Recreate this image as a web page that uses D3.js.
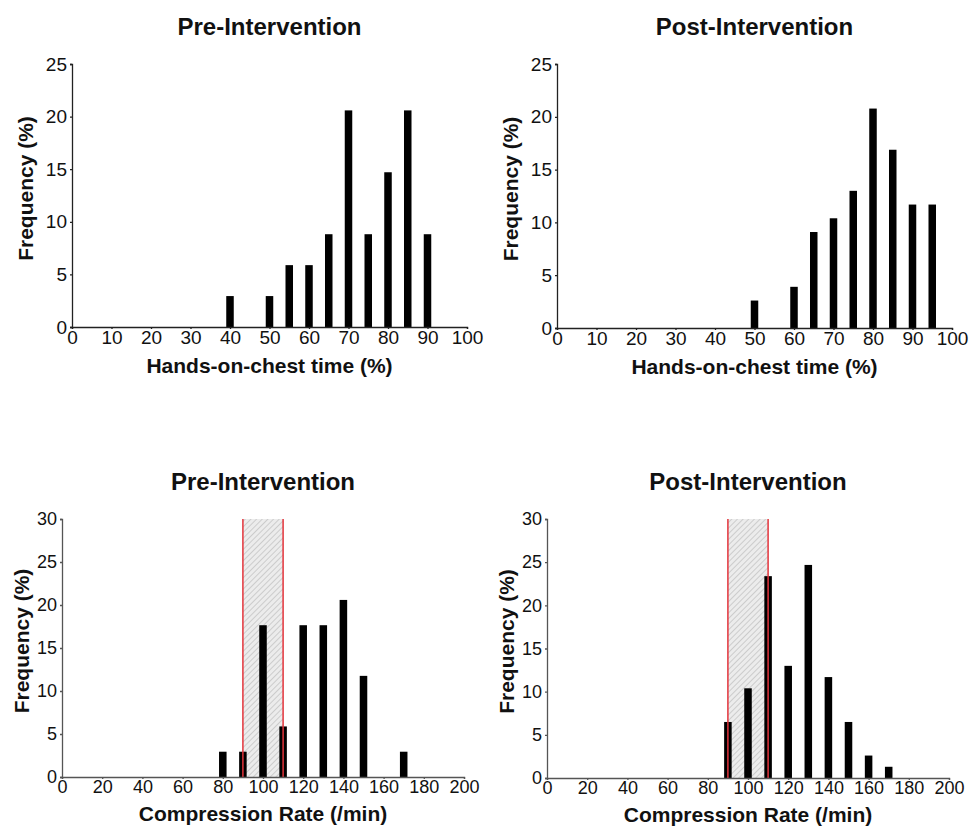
<!DOCTYPE html>
<html>
<head>
<meta charset="utf-8">
<script src="https://cdn.jsdelivr.net/npm/d3@7"></script>
<style>
  body { margin: 0; background: #fff; }
  svg { display: block; font-family: "Liberation Sans", Arial, sans-serif; }
  .axis text { fill: #111; }
  .chart-title { font-weight: bold; font-size: 24px; fill: #111; }
  .axis-title { font-weight: bold; font-size: 21px; fill: #111; }
</style>
</head>
<body>
<svg id="chart"></svg>
<script>
// Bin centres and frequencies (%)
const preHandsBins = [40, 50, 55, 60, 65, 70, 75, 80, 85, 90];
const preHandsFreq = [2.94, 2.94, 5.88, 5.88, 8.82, 20.59, 8.82, 14.71, 20.59, 8.82];

const postHandsBins = [50, 60, 65, 70, 75, 80, 85, 90, 95];
const postHandsFreq = [2.60, 3.90, 9.09, 10.39, 12.99, 20.78, 16.88, 11.69, 11.69];

const preRateBins = [80, 90, 100, 110, 120, 130, 140, 150, 170];
const preRateFreq = [2.94, 2.94, 17.65, 5.88, 17.65, 17.65, 20.59, 11.76, 2.94];

const postRateBins = [90, 100, 110, 120, 130, 140, 150, 160, 170];
const postRateFreq = [6.49, 10.39, 23.38, 12.99, 24.68, 11.69, 6.49, 2.60, 1.30];

// Tick labels
const handsTicksX = [0, 10, 20, 30, 40, 50, 60, 70, 80, 90, 100];
const handsTicksY = [0, 5, 10, 15, 20, 25];
const rateTicksX = [0, 20, 40, 60, 80, 100, 120, 140, 160, 180, 200];
const rateTicksY = [0, 5, 10, 15, 20, 25, 30];

// Recommended compression rate band
const targetRate = [90, 110];

const svg = d3.select('#chart')
    .attr('width', 971)
    .attr('height', 827);

// hatch pattern for the target band
const defs = svg.append('defs');
const pat = defs.append('pattern')
    .attr('id', 'hatch')
    .attr('patternUnits', 'userSpaceOnUse')
    .attr('width', 4)
    .attr('height', 4)
    .attr('patternTransform', 'rotate(45)');
pat.append('rect').attr('width', 4).attr('height', 4).attr('fill', '#ececec');
pat.append('line')
    .attr('x1', 0).attr('y1', 0).attr('x2', 0).attr('y2', 4)
    .attr('stroke', '#c4c4c4').attr('stroke-width', 1.6);

class Histogram {

  constructor(_config, _bins, _freq) {
    this.config = _config;
    this.data = _bins.map((b, i) => ({bin: b, freq: _freq[i]}));
    this.initVis();
  }

  initVis() {
    let vis = this;
    const c = vis.config;

    vis.xScale = d3.scaleLinear()
        .domain([c.xTicks[0], c.xTicks[c.xTicks.length - 1]])
        .range([c.left, c.right]);

    vis.yScale = d3.scaleLinear()
        .domain([0, c.yTicks[c.yTicks.length - 1]])
        .range([c.bottom, c.top]);

    vis.g = svg.append('g');

    // shaded target band + red limits (drawn under bars, limits on top)
    if (c.band) {
      vis.g.append('rect')
          .attr('x', vis.xScale(c.band[0]))
          .attr('y', vis.yScale.range()[1])
          .attr('width', vis.xScale(c.band[1]) - vis.xScale(c.band[0]))
          .attr('height', vis.yScale(0) - vis.yScale.range()[1])
          .attr('fill', 'url(#hatch)');
    }

    vis.g.selectAll('.bar')
        .data(vis.data)
      .join('rect')
        .attr('class', 'bar')
        .attr('x', d => vis.xScale(d.bin - c.barUnits / 2))
        .attr('width', vis.xScale(c.barUnits) - vis.xScale(0))
        .attr('y', d => vis.yScale(d.freq))
        .attr('height', d => vis.yScale(0) - vis.yScale(d.freq))
        .attr('fill', '#000');

    if (c.band) {
      vis.g.selectAll('.limit')
          .data(c.band)
        .join('line')
          .attr('class', 'limit')
          .attr('x1', d => vis.xScale(d))
          .attr('x2', d => vis.xScale(d))
          .attr('y1', vis.yScale.range()[1])
          .attr('y2', vis.yScale(0))
          .attr('stroke', '#e3343b')
          .attr('stroke-width', 1.5);
    }

    // axes
    const xAxis = d3.axisBottom(vis.xScale)
        .tickValues(c.xTicks)
        .tickSize(2)
        .tickPadding(1)
        .tickFormat(d3.format('d'));

    const yAxis = d3.axisLeft(vis.yScale)
        .tickValues(c.yTicks)
        .tickSize(2)
        .tickPadding(3)
        .tickFormat(d3.format('d'));

    vis.g.append('g')
        .attr('class', 'axis')
        .attr('transform', `translate(0,${c.bottom})`)
        .call(xAxis)
        .call(g => g.selectAll('text').style('font-size', c.tickFont + 'px'))
        .call(g => g.selectAll('path,line').attr('stroke', c.axisColor).attr('stroke-width', 1.3));

    vis.g.append('g')
        .attr('class', 'axis')
        .attr('transform', `translate(${c.left},0)`)
        .call(yAxis)
        .call(g => g.selectAll('text').style('font-size', c.tickFont + 'px'))
        .call(g => g.selectAll('path,line').attr('stroke', c.axisColor).attr('stroke-width', 1.3));

    // titles
    const cx = (c.left + c.right) / 2;
    vis.g.append('text')
        .attr('class', 'chart-title')
        .attr('x', cx)
        .attr('y', c.titleY)
        .attr('text-anchor', 'middle')
        .text(c.title);

    vis.g.append('text')
        .attr('class', 'axis-title')
        .attr('x', cx)
        .attr('y', c.bottom + c.xTitleOffset)
        .attr('text-anchor', 'middle')
        .text(c.xTitle);

    vis.g.append('text')
        .attr('class', 'axis-title')
        .attr('transform', `translate(${c.left - c.yTitleOffset},${(c.top + c.bottom) / 2 - 7}) rotate(-90)`)
        .attr('dy', '0.35em')
        .attr('text-anchor', 'middle')
        .text('Frequency (%)');
  }
}

const handsCommon = {
  xTicks: handsTicksX, yTicks: handsTicksY, barUnits: 1.9,
  tickFont: 19, axisColor: '#222', titleY: 35, xTitleOffset: 46, yTitleOffset: 46,
  xTitle: 'Hands-on-chest time (%)'
};
const rateCommon = {
  xTicks: rateTicksX, yTicks: rateTicksY, barUnits: 3.75, band: targetRate,
  tickFont: 18, axisColor: '#555', titleY: 490, xTitleOffset: 44, yTitleOffset: 40,
  xTitle: 'Compression Rate (/min)'
};

new Histogram(Object.assign({}, handsCommon, {title: 'Pre-Intervention', left: 72, right: 467, top: 64, bottom: 327}), preHandsBins, preHandsFreq);
new Histogram(Object.assign({}, handsCommon, {title: 'Post-Intervention', left: 557, right: 952, top: 64, bottom: 328}), postHandsBins, postHandsFreq);
new Histogram(Object.assign({}, rateCommon, {title: 'Pre-Intervention', left: 62, right: 464, top: 519, bottom: 777}), preRateBins, preRateFreq);
new Histogram(Object.assign({}, rateCommon, {title: 'Post-Intervention', left: 547, right: 949, top: 519, bottom: 778}), postRateBins, postRateFreq);
</script>
</body>
</html>
